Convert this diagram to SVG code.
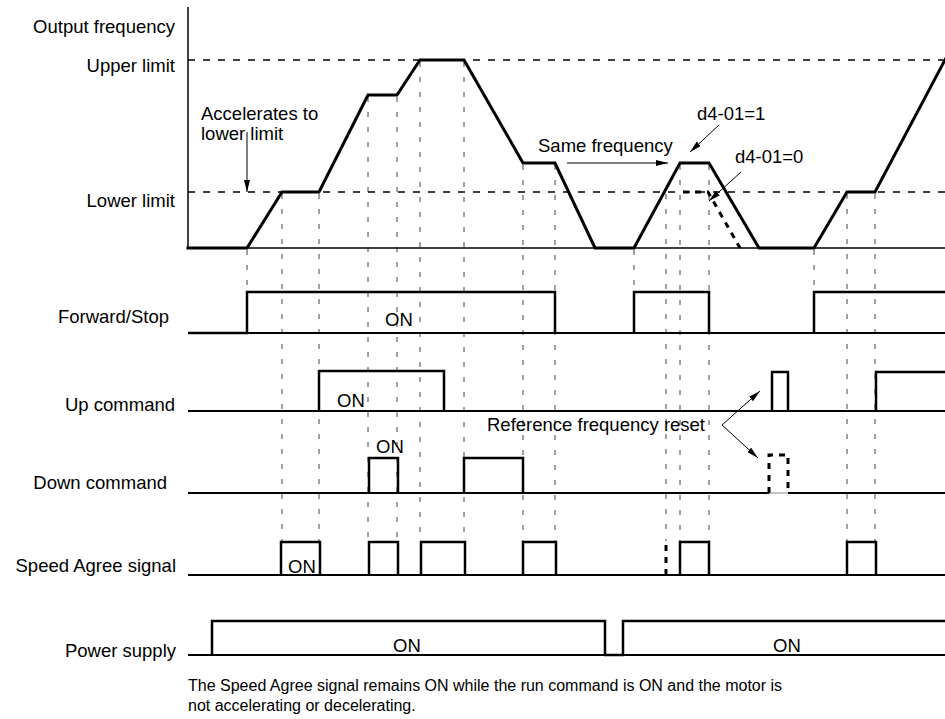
<svg xmlns="http://www.w3.org/2000/svg" width="945" height="719" viewBox="0 0 945 719">
<style>
text{font-family:"Liberation Sans",Arial,Helvetica,sans-serif;font-size:18.5px;fill:#000}
.lbl{text-anchor:end}
.note{font-size:16px}
.thick{fill:none;stroke:#000;stroke-width:3;stroke-linejoin:miter;stroke-linecap:square}
.sig{fill:none;stroke:#000;stroke-width:2.5;stroke-linejoin:miter}
.base{fill:none;stroke:#000;stroke-width:2}
.guide{fill:none;stroke:#444;stroke-width:1;stroke-dasharray:5 10}
.limit{fill:none;stroke:#000;stroke-width:1.5;stroke-dasharray:7 8}
.tdash{fill:none;stroke:#000;stroke-width:3;stroke-dasharray:6 6}
.arr{fill:none;stroke:#000;stroke-width:1}
</style>
<defs>
<marker id="ah" viewBox="0 0 12 6" refX="12" refY="3" markerWidth="12" markerHeight="6" markerUnits="userSpaceOnUse" orient="auto">
<path d="M0,0 L12,3 L0,6 Z" fill="#000"/>
</marker>
</defs>
<rect width="945" height="719" fill="#fff"/>

<g id="guides">
<line class="guide" x1="247" y1="250" x2="247" y2="292"/>
<line class="guide" x1="282" y1="194" x2="282" y2="541"/>
<line class="guide" x1="319" y1="194" x2="319" y2="541"/>
<line class="guide" x1="368" y1="97" x2="368" y2="541"/>
<line class="guide" x1="397" y1="97" x2="397" y2="541"/>
<line class="guide" x1="420" y1="62" x2="420" y2="541"/>
<line class="guide" x1="464" y1="62" x2="464" y2="541"/>
<line class="guide" x1="523" y1="165" x2="523" y2="541"/>
<line class="guide" x1="555" y1="165" x2="555" y2="541"/>
<line class="guide" x1="634" y1="250" x2="634" y2="292"/>
<line class="guide" x1="666" y1="194" x2="666" y2="541"/>
<line class="guide" x1="680" y1="165" x2="680" y2="541"/>
<line class="guide" x1="709" y1="165" x2="709" y2="541"/>
<line class="guide" x1="814" y1="250" x2="814" y2="292"/>
<line class="guide" x1="847" y1="194" x2="847" y2="541"/>
<line class="guide" x1="875" y1="194" x2="875" y2="541"/>
</g>

<g id="frequency">
<text class="lbl" x="175" y="33">Output frequency</text>
<text class="lbl" x="175" y="72">Upper limit</text>
<text class="lbl" x="175" y="207">Lower limit</text>
<line x1="188" y1="7" x2="188" y2="249" stroke="#000" stroke-width="1.5"/>
<line x1="188" y1="248" x2="945" y2="248" stroke="#000" stroke-width="1.5"/>
<line class="limit" x1="188" y1="60" x2="945" y2="60"/>
<line class="limit" x1="188" y1="192" x2="945" y2="192"/>
<path class="thick" d="M188,248 L247,248 L282,192 L319,192 L368,95 L397,95 L420,60 L464,60 L523,163 L555,163 L595,248 L634,248 L680,163 L709,163 L759,248 L814,248 L847,192 L875,192 L946,58"/>
<path class="tdash" d="M683,192 L708,192 L740,248"/>
<text x="201" y="120">Accelerates to</text>
<text x="201" y="140">lower limit</text>
<text x="538" y="152">Same frequency</text>
<text x="697" y="120">d4-01=1</text>
<text x="735" y="163">d4-01=0</text>
</g>

<g id="forward-stop">
<text class="lbl" x="169" y="323">Forward/Stop</text>
<line class="base" x1="188" y1="333" x2="945" y2="333"/>
<path class="sig" d="M188,333 L247,333 L247,292 L555,292 L555,333 M634,333 L634,292 L709,292 L709,333 M814,333 L814,292 L945,292"/>
<text x="385" y="326">ON</text>
</g>

<g id="up-command">
<text class="lbl" x="175" y="411">Up command</text>
<line class="base" x1="188" y1="411" x2="945" y2="411"/>
<path class="sig" d="M319,411 L319,371 L444,371 L444,411 M772,411 L772,372 L788,372 L788,411 M876,411 L876,372 L945,372"/>
<text x="337" y="407">ON</text>
<text x="487" y="431">Reference frequency reset</text>
</g>

<g id="down-command">
<text class="lbl" x="167" y="489">Down command</text>
<line class="base" x1="188" y1="493" x2="769" y2="493"/>
<line class="base" x1="788" y1="493" x2="945" y2="493"/>
<line x1="769" y1="493" x2="788" y2="493" stroke="#888" stroke-width="1"/>
<path class="sig" d="M369,493 L369,458 L398,458 L398,493 M464,493 L464,458 L523,458 L523,493"/>
<path class="tdash" d="M769,493 L769,455 L788,455 L788,493" stroke-dasharray="8 6"/>
<text x="376" y="453">ON</text>
</g>

<g id="speed-agree">
<text class="lbl" x="176" y="572">Speed Agree signal</text>
<line class="base" x1="188" y1="575" x2="945" y2="575"/>
<path class="sig" d="M281,575 L281,542 L320,542 L320,575 M369,575 L369,542 L398,542 L398,575 M421,575 L421,542 L465,542 L465,575 M523,575 L523,542 L556,542 L556,575 M680,575 L680,542 L709,542 L709,575 M847,575 L847,542 L876,542 L876,575"/>
<path class="tdash" d="M666,575 L666,541" stroke-dasharray="6 5"/>
<text x="288" y="573">ON</text>
</g>

<g id="power-supply">
<text class="lbl" x="176" y="657">Power supply</text>
<line class="base" x1="188" y1="655" x2="945" y2="655"/>
<path class="sig" d="M212,655 L212,621 L605,621 L605,655 L623,655 L623,621 L945,621"/>
<text x="393" y="652">ON</text>
<text x="773" y="652">ON</text>
</g>

<g id="connectors">
<line class="arr" x1="247" y1="132" x2="247" y2="192" marker-end="url(#ah)"/>
<line class="arr" x1="567" y1="163" x2="668" y2="163" marker-end="url(#ah)"/>
<line class="arr" x1="719" y1="125" x2="690" y2="152" marker-end="url(#ah)"/>
<line class="arr" x1="741" y1="172" x2="709" y2="201" marker-end="url(#ah)"/>
<line class="arr" x1="722" y1="425" x2="760" y2="391" marker-end="url(#ah)"/>
<line class="arr" x1="722" y1="425" x2="758" y2="458" marker-end="url(#ah)"/>
</g>

<g id="note">
<text class="note" x="188" y="691">The Speed Agree signal remains ON while the run command is ON and the motor is</text>
<text class="note" x="188" y="711">not accelerating or decelerating.</text>
</g>
</svg>
